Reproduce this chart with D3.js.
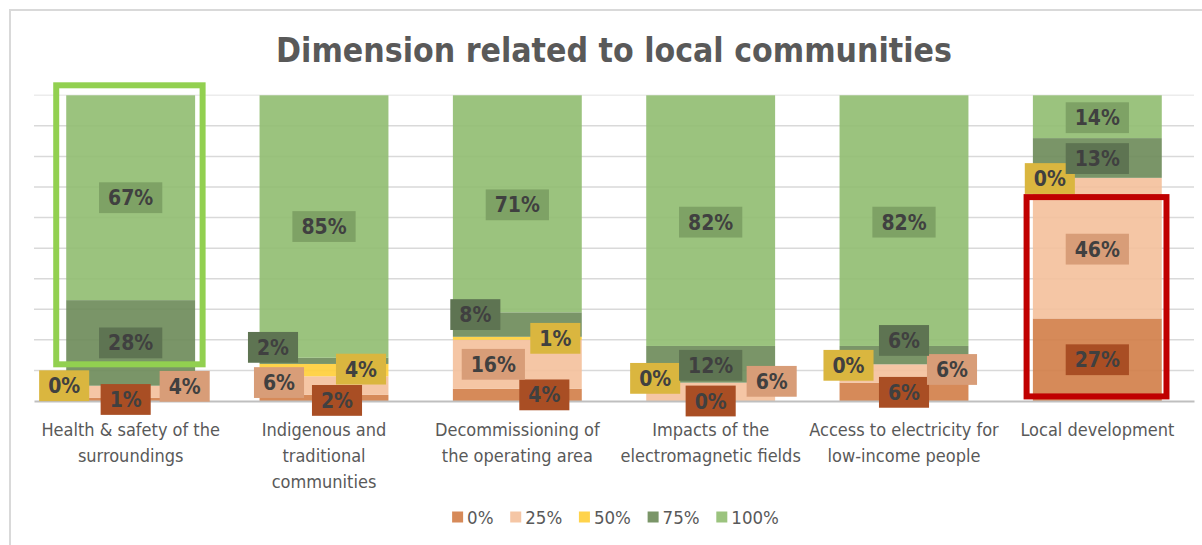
<!DOCTYPE html>
<html>
<head>
<meta charset="utf-8">
<script src="https://cdn.jsdelivr.net/npm/d3@7"></script>
<style>
  html, body { margin: 0; padding: 0; background: #ffffff; }
  svg { display: block; }
  text { font-family: 'DejaVu Sans Condensed', 'DejaVu Sans', sans-serif; font-stretch: condensed; }
</style>
</head>
<body>
<svg id="chart" width="1202" height="545"></svg>
<script>
// Categories along the x axis, with their wrapped tick labels
const categories = [
  "Health & safety of the surroundings",
  "Indigenous and traditional communities",
  "Decommissioning of the operating area",
  "Impacts of the electromagnetic fields",
  "Access to electricity for low-income people",
  "Local development"
];
const tickLines = [
  ["Health & safety of the", "surroundings"],
  ["Indigenous and", "traditional", "communities"],
  ["Decommissioning of", "the operating area"],
  ["Impacts of the", "electromagnetic fields"],
  ["Access to electricity for", "low-income people"],
  ["Local development"]
];

// Share of answers (in %) for each level, one array per series
const seriesKeys = ["0%", "25%", "50%", "75%", "100%"];
const share0   = [1, 2, 4, 0, 6, 27];
const share25  = [4, 6, 16, 6, 6, 46];
const share50  = [0, 4, 1, 0, 0, 0];
const share75  = [28, 2, 8, 12, 6, 13];
const share100 = [67, 85, 71, 82, 82, 14];
const seriesValues = [share0, share25, share50, share75, share100];

// Series colours and darker label backgrounds
const fillColors  = ["#d17d47", "#f4c09b", "#ffce37", "#6b8a58", "#90bd70"];
const labelColors = ["#a94e24", "#d89d78", "#dab63f", "#5e7452", "#7ea265"];

// Manual nudges [dx, dy] for labels that would collide, per series then category
const labelNudge = [
  [[-5, 0], [13, 2.5], [27, 0], [0, 0], [0, 0.5], [0, 0]],
  [[54, -5.5], [-45, -3], [-24, 0], [61, -10.5], [48, -4], [0, 1]],
  [[-66.5, 0], [37, -1], [38, 0], [-55.5, -4.3], [-55.5, 1], [-47.5, 0.7]],
  [[0, 0], [-51, -13.5], [-42, -10], [0, 1], [0, -14.7], [0, 0.6]],
  [[0, 0], [0, 0], [0, 1], [0, 1.5], [0, 1.5], [0, 1]]
];

// Highlight frames: category index, covered share range, padding and colour
const highlights = [
  { cat: 0, lo: 0.12, hi: 1.0, padL: 10, padR: 7.5, padT: 10, color: "#92d050" },
  { cat: 5, lo: 0.015, hi: 0.667, padL: 6.3, padR: 4.7, padT: 0, color: "#c00000" }
];

const table = categories.map((c, i) => {
  const row = { category: c };
  seriesKeys.forEach((k, s) => { row[k] = seriesValues[s][i]; });
  return row;
});

const svg = d3.select("#chart");

// Chart frame
svg.append("rect")
  .attr("x", 10).attr("y", 10).attr("width", 1400).attr("height", 800)
  .attr("fill", "#ffffff").attr("stroke", "#d9d9d9").attr("stroke-width", 2);

const plot = { left: 34, right: 1194, top: 95.3, bottom: 401 };

const x = d3.scaleBand()
  .domain(categories)
  .range([plot.left, plot.right])
  .paddingInner(1 / 3)
  .paddingOuter(1 / 6);

const y = d3.scaleLinear().domain([0, 1]).range([plot.bottom, plot.top]);

// Title
svg.append("text")
  .attr("x", (plot.left + plot.right) / 2)
  .attr("y", 61.5)
  .attr("text-anchor", "middle")
  .attr("font-size", 33.5)
  .attr("font-weight", "bold")
  .attr("fill", "#595959")
  .text("Dimension related to local communities");

// Horizontal gridlines
svg.append("g")
  .selectAll("line")
  .data(y.ticks(10).filter(t => t > 0))
  .join("line")
  .attr("x1", plot.left).attr("x2", plot.right)
  .attr("y1", d => y(d)).attr("y2", d => y(d))
  .attr("stroke", "#d9d9d9")
  .attr("stroke-width", 1.5)
  .attr("stroke-opacity", d => d === 1 ? 0.5 : 1);

// 100% stacked bars
const stacked = d3.stack().keys(seriesKeys).offset(d3.stackOffsetExpand)(table);

const layers = svg.append("g")
  .selectAll("g")
  .data(stacked)
  .join("g")
  .attr("fill", (d, i) => fillColors[i])
  .attr("fill-opacity", 0.9);

layers.selectAll("rect")
  .data(d => d)
  .join("rect")
  .attr("x", d => x(d.data.category))
  .attr("width", x.bandwidth())
  .attr("y", d => y(d[1]))
  .attr("height", d => y(d[0]) - y(d[1]));

// Category axis
const xAxis = svg.append("g")
  .attr("transform", `translate(0,${plot.bottom})`)
  .call(d3.axisBottom(x).tickSize(0).tickSizeOuter(0).tickFormat(() => ""));
xAxis.select(".domain").attr("stroke", "#bfbfbf").attr("stroke-width", 2);

xAxis.selectAll(".tick text")
  .attr("font-size", 18)
  .attr("fill", "#595959")
  .attr("y", 0)
  .attr("dy", 0)
  .each(function (d, i) {
    const t = d3.select(this);
    tickLines[i].forEach((line, j) => {
      t.append("tspan")
        .attr("x", 0)
        .attr("y", 35 + j * 26)
        .text(line);
    });
  });

// Highlight frames
svg.append("g")
  .selectAll("rect")
  .data(highlights)
  .join("rect")
  .attr("x", d => x(categories[d.cat]) - d.padL)
  .attr("width", d => x.bandwidth() + d.padL + d.padR)
  .attr("y", d => y(d.hi) - d.padT)
  .attr("height", d => y(d.lo) - y(d.hi) + d.padT)
  .attr("fill", "none")
  .attr("stroke", d => d.color)
  .attr("stroke-width", 6);

// Data labels with coloured backgrounds
const labelLayer = svg.append("g");
stacked.forEach((layer, s) => {
  layer.forEach((d, i) => {
    const [dx, dy] = labelNudge[s][i];
    const cx = x(d.data.category) + x.bandwidth() / 2 + dx;
    const cy = (y(d[0]) + y(d[1])) / 2 + dy;
    const g = labelLayer.append("g").attr("transform", `translate(${cx},${cy})`);
    const bg = g.append("rect").attr("fill", labelColors[s]);
    const t = g.append("text")
      .attr("text-anchor", "middle")
      .attr("dy", "0.36em")
      .attr("font-size", 21)
      .attr("font-weight", "bold")
      .attr("fill", "#404040")
      .text(d.data[seriesKeys[s]] + "%");
    const w = t.node().getComputedTextLength() + 18;
    bg.attr("x", -w / 2).attr("y", -15.4).attr("width", w).attr("height", 30.8);
  });
});

// Legend
const legend = svg.append("g").attr("transform", "translate(0,517)");
let cursor = 0;
seriesKeys.forEach((k, i) => {
  const g = legend.append("g");
  g.append("rect")
    .attr("x", 0).attr("y", -5.5).attr("width", 11).attr("height", 11)
    .attr("fill", fillColors[i]).attr("fill-opacity", 0.9);
  const t = g.append("text")
    .attr("x", 15).attr("dy", "0.36em")
    .attr("font-size", 18.5).attr("fill", "#595959")
    .text(k);
  const w = 15 + t.node().getComputedTextLength();
  g.attr("transform", `translate(${cursor},0)`);
  cursor += w + 16.7;
});
const legendWidth = cursor - 16.7;
legend.attr("transform", `translate(${615.5 - legendWidth / 2},517)`);
</script>
</body>
</html>
